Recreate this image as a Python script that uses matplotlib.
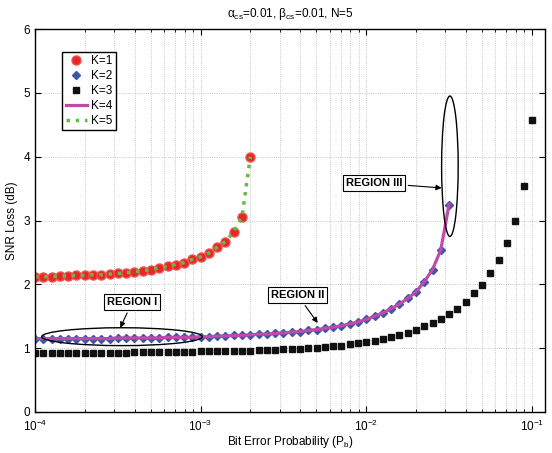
import numpy as np
import matplotlib
matplotlib.use("Agg")
import matplotlib.pyplot as plt
from matplotlib.patches import Ellipse

plt.rcParams['font.family'] = ['Liberation Sans', 'DejaVu Sans']
plt.rcParams['mathtext.default'] = 'regular'

# x values: log10(Pb) from -4 in steps of 0.05
pb_k1 = 10 ** np.round(np.arange(-4.0, -2.7 + 0.001, 0.05), 2)
pb_k2 = 10 ** np.round(np.arange(-4.0, -1.5 + 0.001, 0.05), 2)
pb_k3 = 10 ** np.round(np.arange(-4.0, -1.0 + 0.001, 0.05), 2)

loss_k1 = [2.12, 2.12, 2.12, 2.13, 2.13, 2.14, 2.14, 2.15, 2.15, 2.16,
           2.17, 2.18, 2.20, 2.21, 2.23, 2.26, 2.28, 2.31, 2.34, 2.39,
           2.43, 2.49, 2.58, 2.67, 2.82, 3.06, 4.00]
loss_k2 = [1.15, 1.15, 1.15, 1.15, 1.15, 1.15, 1.15, 1.15, 1.15, 1.15,
           1.16, 1.16, 1.16, 1.16, 1.16, 1.16, 1.17, 1.17, 1.17, 1.17,
           1.18, 1.18, 1.19, 1.19, 1.20, 1.20, 1.21, 1.22, 1.22, 1.23,
           1.24, 1.25, 1.26, 1.28, 1.29, 1.31, 1.33, 1.35, 1.38, 1.41,
           1.45, 1.50, 1.55, 1.62, 1.69, 1.78, 1.88, 2.04, 2.23, 2.54,
           3.25]
loss_k3 = [0.93, 0.93, 0.93, 0.93, 0.93, 0.93, 0.93, 0.93, 0.93, 0.93,
           0.93, 0.93, 0.94, 0.94, 0.94, 0.94, 0.94, 0.94, 0.94, 0.94,
           0.95, 0.95, 0.95, 0.95, 0.96, 0.96, 0.96, 0.97, 0.97, 0.97,
           0.98, 0.98, 0.99, 1.00, 1.01, 1.02, 1.03, 1.04, 1.06, 1.08,
           1.09, 1.11, 1.14, 1.17, 1.21, 1.24, 1.29, 1.34, 1.40, 1.46,
           1.54, 1.62, 1.73, 1.86, 1.99, 2.17, 2.38, 2.65, 3.00, 3.54,
           4.58]
# K=4 and K=5 lie on top of K=2 and K=1
loss_k4 = list(loss_k2)
loss_k5 = list(loss_k1)

fig = plt.figure(figsize=(5.52, 4.53), dpi=100)
ax = fig.add_axes([35/552, 1 - 412/453, 510/552, 383/453])

ax.plot(pb_k1, loss_k1, 'o', color='#e8262a', mec='#f05050', ms=6.5, label='K=1')
ax.plot(pb_k2, loss_k2, 'D', color='#3b57a7', ms=4.5, label='K=2')
ax.plot(pb_k3, loss_k3, 's', color='#111111', ms=5, label='K=3')
ax.plot(pb_k2, loss_k4, '-', color='#c04aa8', lw=2.3, label='K=4')
ax.plot(pb_k1, loss_k5, ':', color='#66bb44', lw=2.5, label='K=5')

ax.set_xscale('log')
ax.set_xlim(1e-4, 0.12)
ax.set_ylim(0, 6)
ax.set_yticks([0, 1, 2, 3, 4, 5, 6])
ax.grid(True, which='major', ls=':', color='#b4b4b4', lw=0.6)
ax.grid(True, which='minor', axis='x', ls=':', color='#b4b4b4', lw=0.6)
ax.tick_params(which='both', direction='in', top=True, right=True, labelsize=8.5)
ax.tick_params(which='major', length=4)
ax.tick_params(which='minor', length=2)
ax.tick_params(axis='x', which='major', pad=5)
for s in ax.spines.values():
    s.set_linewidth(1.0)

ax.set_xlabel('Bit Error Probability (P$_b$)', fontsize=8.5, labelpad=0)
ax.set_ylabel('SNR Loss (dB)', fontsize=8.5, labelpad=4)
ax.set_title(r'$\alpha_{cs}$=0.01, $\beta_{cs}$=0.01, N=5', fontsize=8.5, pad=9)

leg = ax.legend(loc='upper left', bbox_to_anchor=(0.0535, 0.941), borderaxespad=0,
                fontsize=8.5, handlelength=1.8, handletextpad=0.3, labelspacing=0.25,
                borderpad=0.3, fancybox=False, edgecolor='black', framealpha=1)
leg.get_frame().set_linewidth(1.0)


def ellipse(x0, x1, y0, y1):
    t = ax.transData + ax.transAxes.inverted()
    (ax0, ay0), (ax1, ay1) = t.transform([(x0, y0), (x1, y1)])
    e = Ellipse(((ax0 + ax1) / 2, (ay0 + ay1) / 2), ax1 - ax0, ay1 - ay0,
                transform=ax.transAxes, fill=False, ec='black', lw=1.0, zorder=5)
    ax.add_patch(e)


ellipse(10**-3.96, 10**-2.99, 1.04, 1.32)
ellipse(10**-1.545, 10**-1.445, 2.75, 4.95)

box = dict(boxstyle='square,pad=0.25', fc='white', ec='black', lw=0.8)
arrow = dict(arrowstyle='-|>', color='black', lw=0.8, mutation_scale=8, shrinkB=0)
ax.annotate('REGION I', xy=(10**-3.485, 1.32), xytext=(10**-3.414, 1.72),
            ha='center', va='center', fontsize=8, fontweight='bold',
            bbox=box, arrowprops=arrow, zorder=6)
ax.annotate('REGION II', xy=(10**-2.293, 1.395), xytext=(10**-2.415, 1.83),
            ha='center', va='center', fontsize=8, fontweight='bold',
            bbox=box, arrowprops=arrow, zorder=6)
ax.annotate('REGION III', xy=(10**-1.545, 3.51), xytext=(10**-1.953, 3.59),
            ha='center', va='center', fontsize=8, fontweight='bold',
            bbox=box, arrowprops=arrow, zorder=6)

fig.savefig('out.png', dpi=100)
